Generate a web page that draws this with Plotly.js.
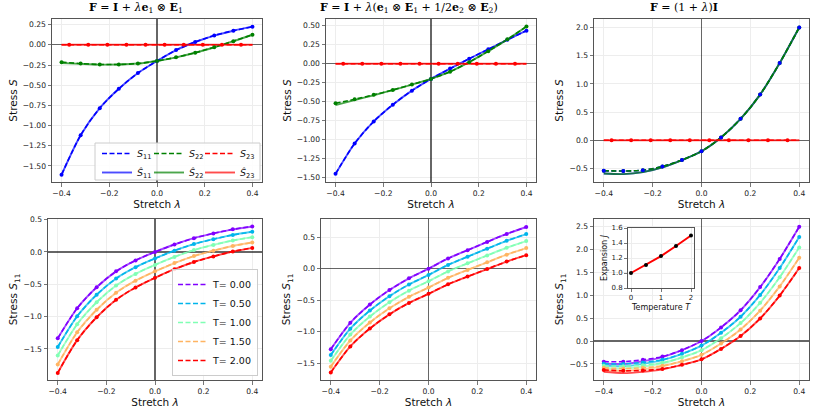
<!DOCTYPE html>
<html><head><meta charset="utf-8">
<script src="https://cdn.plot.ly/plotly-3.0.1.min.js"></script>
<style>html,body{margin:0;padding:0;background:#fff}#chart{width:822px;height:413px}</style>
</head><body><div id="chart"></div>
<script>
// ---------------- data ----------------
const lam = [-0.4,-0.32,-0.24,-0.16,-0.08,0,0.08,0.16,0.24,0.32,0.4];
const lamRedMk = [-0.368,-0.288,-0.208,-0.128,-0.048,0.032,0.112,0.192,0.272,0.352];
const zerosRedMk = [0,0,0,0,0,0,0,0,0,0];

// Panel 1: F = I + λ e1⊗E1
const p1S11    = [-1.61,-1.12,-0.785,-0.545,-0.35,-0.2,-0.065,0.035,0.115,0.175,0.225];
const p1S11hat = [-1.61,-1.12,-0.785,-0.545,-0.35,-0.2,-0.065,0.035,0.115,0.175,0.225];
const p1S22    = [-0.215,-0.232,-0.243,-0.243,-0.232,-0.2,-0.155,-0.098,-0.03,0.045,0.125];
const p1S22hat = [-0.225,-0.236,-0.245,-0.244,-0.232,-0.2,-0.155,-0.098,-0.03,0.045,0.125];
const p1S23    = [0,0,0,0,0,0,0,0,0,0,0];
const p1S23hat = [0,0,0,0,0,0,0,0,0,0,0];

// Panel 2: F = I + λ(e1⊗E1 + 1/2 e2⊗E2)
const p2S11    = [-1.45,-1.05,-0.76,-0.54,-0.355,-0.2,-0.065,0.065,0.19,0.315,0.435];
const p2S11hat = [-1.45,-1.05,-0.76,-0.54,-0.355,-0.2,-0.065,0.065,0.19,0.315,0.435];
const p2S22    = [-0.52,-0.468,-0.41,-0.345,-0.275,-0.2,-0.105,0.02,0.165,0.32,0.49];
const p2S22hat = [-0.546,-0.48,-0.415,-0.347,-0.275,-0.2,-0.105,0.02,0.165,0.32,0.49];
const p2S23    = [0,0,0,0,0,0,0,0,0,0,0];
const p2S23hat = [0,0,0,0,0,0,0,0,0,0,0];

// Panel 3: F = (1+λ) I
const p3S11    = [-0.54,-0.545,-0.53,-0.465,-0.35,-0.195,0.05,0.38,0.81,1.37,2.0];
const p3S11hat = [-0.59,-0.6,-0.565,-0.48,-0.352,-0.195,0.05,0.38,0.81,1.37,2.0];
const p3S22    = [-0.54,-0.545,-0.53,-0.465,-0.35,-0.195,0.05,0.38,0.81,1.37,2.0];
const p3S22hat = [-0.59,-0.6,-0.565,-0.48,-0.352,-0.195,0.05,0.38,0.81,1.37,2.0];
const p3S23    = [0,0,0,0,0,0,0,0,0,0,0];
const p3S23hat = [0,0,0,0,0,0,0,0,0,0,0];

// Temperatures
const temps = [0, 0.5, 1.0, 1.5, 2.0];
const tColors = ['#8000ff','#00b5eb','#80ffb4','#ffb462','#ff0000'];

// Panel 4: S11 vs λ for each T
const p4T0 = [-1.336,-0.87,-0.545,-0.30,-0.13,0.0,0.116,0.214,0.287,0.35,0.395];
const p4T1 = [-1.47,-0.994,-0.661,-0.41,-0.235,-0.10,0.02,0.122,0.198,0.264,0.312];
const p4T2 = [-1.60,-1.117,-0.778,-0.52,-0.339,-0.20,-0.076,0.03,0.109,0.178,0.229];
const p4T3 = [-1.74,-1.241,-0.894,-0.63,-0.444,-0.30,-0.171,-0.063,0.02,0.093,0.146];
const p4T4 = [-1.87,-1.364,-1.01,-0.74,-0.549,-0.40,-0.267,-0.155,-0.069,0.007,0.063];

// Panel 5
const p5T0 = [-1.28,-0.86,-0.57,-0.34,-0.153,0.0,0.163,0.295,0.426,0.553,0.663];
const p5T1 = [-1.373,-0.954,-0.666,-0.437,-0.251,-0.10,0.06,0.19,0.318,0.443,0.551];
const p5T2 = [-1.465,-1.048,-0.761,-0.533,-0.349,-0.20,-0.043,0.085,0.21,0.333,0.439];
const p5T3 = [-1.558,-1.142,-0.857,-0.63,-0.447,-0.30,-0.146,-0.02,0.102,0.223,0.327];
const p5T4 = [-1.65,-1.236,-0.952,-0.726,-0.545,-0.40,-0.249,-0.125,-0.006,0.113,0.215];

// Panel 6 (dashed S and solid Ŝ)
const p6T0 = [-0.45,-0.45,-0.41,-0.34,-0.2,0.0,0.296,0.67,1.175,1.79,2.49];
const p6T1 = [-0.495,-0.5,-0.468,-0.407,-0.28,-0.1,0.179,0.53,1.004,1.59,2.265];
const p6T2 = [-0.54,-0.55,-0.526,-0.474,-0.36,-0.2,0.062,0.39,0.833,1.39,2.04];
const p6T3 = [-0.585,-0.6,-0.584,-0.541,-0.44,-0.3,-0.055,0.25,0.662,1.19,1.815];
const p6T4 = [-0.63,-0.65,-0.642,-0.608,-0.52,-0.4,-0.172,0.11,0.491,0.99,1.59];
const p6T0hat = [-0.49,-0.50,-0.44,-0.35,-0.20,0.0,0.296,0.67,1.175,1.79,2.49];
const p6T1hat = [-0.535,-0.55,-0.498,-0.417,-0.28,-0.1,0.179,0.53,1.004,1.59,2.265];
const p6T2hat = [-0.58,-0.60,-0.556,-0.484,-0.36,-0.2,0.062,0.39,0.833,1.39,2.04];
const p6T3hat = [-0.625,-0.65,-0.614,-0.551,-0.44,-0.3,-0.055,0.25,0.662,1.19,1.815];
const p6T4hat = [-0.67,-0.70,-0.672,-0.618,-0.52,-0.4,-0.172,0.11,0.491,0.99,1.59];

// Inset: expansion J vs temperature
const insetT = [0, 0.5, 1.0, 1.5, 2.0];
const insetJ = [1.0, 1.108, 1.225, 1.36, 1.5];

// ---------------- traces ----------------
const data = [];
const DASH = '5px,2.5px';
function axIds(n){ return n===1 ? ['x','y'] : ['x'+n,'y'+n]; }
function addLines(n, x, yDash, yHat, color, nameDash, nameHat, legendId, showLeg){
  const [xa, ya] = axIds(n);
  data.push({type:'scatter', mode:'lines', x:x, y:yHat, xaxis:xa, yaxis:ya,
    line:{color:color, width:1.9, shape:'spline', smoothing:0.8}, opacity:0.7,
    name:nameHat || nameDash, legend:legendId, showlegend:!!(showLeg && nameHat), legendrank:2});
  data.push({type:'scatter', mode:'lines', x:x, y:yDash, xaxis:xa, yaxis:ya,
    line:{color:color, width:1.6, dash:DASH, shape:'spline', smoothing:0.8},
    name:nameDash, legend:legendId, showlegend:showLeg, legendrank:1});
}
function addMarkers(n, x, y, color, size){
  const [xa, ya] = axIds(n);
  data.push({type:'scatter', mode:'markers', x:x, y:y, xaxis:xa, yaxis:ya,
    marker:{color:color, size:size||4}, showlegend:false, hoverinfo:'skip'});
}

const cS = ['blue','green','red'];
const nmS = ['<i>S</i><sub>11</sub>','<i>S</i><sub>22</sub>','<i>S</i><sub>23</sub>'];
const nmH = ['<i>Ŝ</i><sub>11</sub>','<i>Ŝ</i><sub>22</sub>','<i>Ŝ</i><sub>23</sub>'];
const legIds = ['legend','legend2','legend3'];

const topPanels = [
  [p1S11,p1S11hat,p1S22,p1S22hat,p1S23,p1S23hat],
  [p2S11,p2S11hat,p2S22,p2S22hat,p2S23,p2S23hat],
  [p3S11,p3S11hat,p3S22,p3S22hat,p3S23,p3S23hat]
];
topPanels.forEach((p, i) => {
  const n = i+1;
  for (let k=0;k<3;k++){
    addLines(n, lam, p[2*k], p[2*k+1], cS[k], nmS[k], nmH[k], legIds[k], n===1);
  }
  if (n===3){
    addMarkers(n, lam, p[2], cS[1]);
    addMarkers(n, lam, p[0], cS[0]);
  } else {
    addMarkers(n, lam, p[0], cS[0]);
    addMarkers(n, lam, p[2], cS[1]);
  }
  addMarkers(n, lamRedMk, zerosRedMk, cS[2]);
});

const p4 = [p4T0,p4T1,p4T2,p4T3,p4T4];
const p5 = [p5T0,p5T1,p5T2,p5T3,p5T4];
const p6 = [p6T0,p6T1,p6T2,p6T3,p6T4];
const p6h = [p6T0hat,p6T1hat,p6T2hat,p6T3hat,p6T4hat];
temps.forEach((T, i) => addLines(4, lam, p4[i], p4[i], tColors[i], 'T= ' + T.toFixed(2), null, 'legend4', true));
temps.forEach((T, i) => addMarkers(4, lam, p4[i], tColors[i]));
temps.forEach((T, i) => addLines(5, lam, p5[i], p5[i], tColors[i], 'T= ' + T.toFixed(2), null, 'legend4', false));
temps.forEach((T, i) => addMarkers(5, lam, p5[i], tColors[i]));
temps.forEach((T, i) => addLines(6, lam, p6[i], p6h[i], tColors[i], 'T= ' + T.toFixed(2), null, 'legend4', false));
temps.forEach((T, i) => addMarkers(6, lam, p6[i], tColors[i]));

data.push({type:'scatter', mode:'lines+markers', x:insetT, y:insetJ, xaxis:'x7', yaxis:'y7',
  line:{color:'red', width:2}, marker:{color:'black', size:4}, showlegend:false});

// ---------------- layout ----------------
const W = 822, H = 413;
const dx = (a,b) => [a/W, b/W];
const dy = (top,bot) => [1-bot/H, 1-top/H];

const common = {
  showline:true, mirror:true, linecolor:'#555', linewidth:1,
  ticks:'outside', ticklen:3.5, tickwidth:0.8, tickcolor:'#555',
  showgrid:true, gridcolor:'#ededed', gridwidth:1,
  zeroline:true, zerolinecolor:'rgba(0,0,0,0.6)', zerolinewidth:1.2,
  tickfont:{family:'DejaVu Sans', size:7.6, color:'#222'},
  automargin:false, fixedrange:true
};
function mkX(dom, anchor){
  return Object.assign({}, common, {domain:dom, anchor:anchor, range:[-0.44,0.44], dtick:0.2, tick0:0, tickformat:'.1f',
    title:{text:'Stretch <i>λ</i>', font:{family:'DejaVu Sans', size:10.5, color:'#111'}, standoff:3}});
}
function mkY(dom, anchor, range, dtick, fmt, title){
  return Object.assign({}, common, {domain:dom, anchor:anchor, range:range, dtick:dtick, tick0:0, tickformat:fmt,
    title:{text:title, font:{family:'DejaVu Sans', size:10.5, color:'#111'}, standoff:3}});
}

const rowTop = dy(19, 182), rowBot = dy(219, 380);
const legFont = {family:'DejaVu Sans', size:9.5, color:'#111'};
const layout = {
  width:W, height:H, margin:{l:0,r:0,t:0,b:0},
  paper_bgcolor:'white', plot_bgcolor:'white',
  font:{family:'DejaVu Sans', color:'#222'},
  xaxis:  mkX(dx(52,262), 'y'),
  yaxis:  mkY(rowTop, 'x', [-1.70,0.32], 0.25, '.2f', 'Stress <i>S</i>'),
  xaxis2: mkX(dx(326,536), 'y2'),
  yaxis2: mkY(rowTop, 'x2', [-1.557,0.588], 0.25, '.2f', 'Stress <i>S</i>'),
  xaxis3: mkX(dx(594,809), 'y3'),
  yaxis3: mkY(rowTop, 'x3', [-0.74,2.15], 0.5, '.1f', 'Stress <i>S</i>'),
  xaxis4: mkX(dx(48,262), 'y4'),
  yaxis4: mkY(rowBot, 'x4', [-1.98,0.51], 0.5, '.1f', 'Stress <i>S</i><sub>11</sub>'),
  xaxis5: mkX(dx(321,536), 'y5'),
  yaxis5: mkY(rowBot, 'x5', [-1.77,0.79], 0.5, '.1f', 'Stress <i>S</i><sub>11</sub>'),
  xaxis6: mkX(dx(594,809), 'y6'),
  yaxis6: mkY(rowBot, 'x6', [-0.85,2.66], 0.5, '.1f', 'Stress <i>S</i><sub>11</sub>'),
  xaxis7: Object.assign({}, common, {domain:dx(628,694), anchor:'y7', range:[-0.1,2.1], dtick:1, tick0:0,
    zeroline:false, ticklen:3, tickfont:{family:'DejaVu Sans', size:7, color:'#222'},
    title:{text:'Temperature <i>T</i>', font:{family:'DejaVu Sans', size:8, color:'#111'}, standoff:2}}),
  yaxis7: Object.assign({}, common, {domain:dy(228,288), anchor:'x7', range:[0.8,1.6], dtick:0.2, tick0:0, tickformat:'.1f',
    zeroline:false, ticklen:3, tickfont:{family:'DejaVu Sans', size:7, color:'#222'},
    title:{text:'Expansion <i>J</i>', font:{family:'DejaVu Sans', size:8, color:'#111'}, standoff:2}}),
  legend:  {x:97/W, y:1-139/H, xanchor:'left', yanchor:'top', bgcolor:'rgba(0,0,0,0)', borderwidth:0, font:legFont, traceorder:'normal'},
  legend2: {x:149/W, y:1-139/H, xanchor:'left', yanchor:'top', bgcolor:'rgba(0,0,0,0)', borderwidth:0, font:legFont, traceorder:'normal'},
  legend3: {x:200/W, y:1-139/H, xanchor:'left', yanchor:'top', bgcolor:'rgba(0,0,0,0)', borderwidth:0, font:legFont, traceorder:'normal'},
  legend4: {x:258/W, y:1-376/H, xanchor:'right', yanchor:'bottom', bgcolor:'rgba(255,255,255,0.85)',
            bordercolor:'#cccccc', borderwidth:1, font:legFont},
  shapes: [
    {type:'rect', xref:'paper', yref:'paper', x0:95/W, x1:260/W, y0:1-180/H, y1:1-143/H,
     fillcolor:'rgba(255,255,255,0.85)', line:{color:'#cccccc', width:1}, layer:'above'}
  ],
  annotations: [
    {text:'<b>F</b> = <b>I</b> + <i>λ</i><b>e</b><sub>1</sub> ⊗ <b>E</b><sub>1</sub>',
     x:136/W, y:1-8/H, xref:'paper', yref:'paper', showarrow:false, xanchor:'center', yanchor:'middle',
     font:{family:'DejaVu Serif', size:11, color:'#000'}},
    {text:'<b>F</b> = <b>I</b> + <i>λ</i>(<b>e</b><sub>1</sub> ⊗ <b>E</b><sub>1</sub> + 1/2<b>e</b><sub>2</sub> ⊗ <b>E</b><sub>2</sub>)',
     x:409/W, y:1-8/H, xref:'paper', yref:'paper', showarrow:false, xanchor:'center', yanchor:'middle',
     font:{family:'DejaVu Serif', size:11, color:'#000'}},
    {text:'<b>F</b> = (1 + <i>λ</i>)<b>I</b>',
     x:684/W, y:1-8/H, xref:'paper', yref:'paper', showarrow:false, xanchor:'center', yanchor:'middle',
     font:{family:'DejaVu Serif', size:11, color:'#000'}}
  ],
  showlegend:true
};

Plotly.newPlot('chart', data, layout, {staticPlot:true, displayModeBar:false});
</script>
</body></html>
